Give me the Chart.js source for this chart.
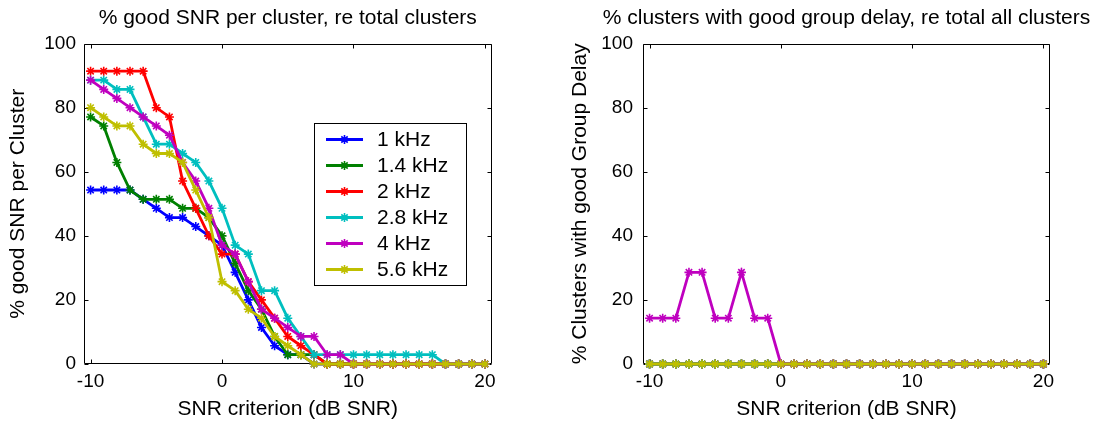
<!DOCTYPE html>
<html>
<head>
<meta charset="utf-8">
<script src="https://cdn.jsdelivr.net/npm/chart.js@4.4.1/dist/chart.umd.min.js"></script>
<style>
  html, body { margin: 0; padding: 0; background: #fff; }
  #wrap { position: relative; width: 1097px; height: 423px; overflow: hidden; }
  canvas { position: absolute; top: 0; }
  #snrChart { left: 0; }
  #gdChart { left: 548px; }
</style>
</head>
<body>
<div id="wrap">
  <canvas id="snrChart" width="548" height="423"></canvas>
  <!-- wider than the window so the (full width) title centres over the axes -->
  <canvas id="gdChart" width="597" height="423"></canvas>
</div>
<script>
// SNR criterion (dB SNR) for every point
const snrCriterion = [-10, -9, -8, -7, -6, -5, -4, -3, -2, -1, 0, 1, 2, 3, 4, 5, 6, 7, 8, 9, 10,
  11, 12, 13, 14, 15, 16, 17, 18, 19, 20];
const xTicks = [-10, 0, 10, 20];
const yTicks = [0, 20, 40, 60, 80, 100];

const bandLabels = ['1 kHz', '1.4 kHz', '2 kHz', '2.8 kHz', '4 kHz', '5.6 kHz'];
const bandColors = ['#0000ff', '#008000', '#ff0000', '#00bfbf', '#bf00bf', '#bfbf00'];

// % good SNR per cluster (left panel)
const snr1k  = [54.3, 54.3, 54.3, 54.3, 51.4, 48.6, 45.7, 45.7, 42.9, 40.0, 37.1, 28.6, 20.0, 11.4, 5.7, 2.9, 2.9,
  0, 0, 0, 0, 0, 0, 0, 0, 0, 0, 0, 0, 0, 0];
const snr14k = [77.1, 74.3, 62.9, 54.3, 51.4, 51.4, 51.4, 48.6, 48.6, 45.7, 40.0, 31.4, 22.9, 17.1, 8.6, 2.9, 2.9,
  2.9, 0, 0, 0, 0, 0, 0, 0, 0, 0, 0, 0, 0, 0];
const snr2k  = [91.4, 91.4, 91.4, 91.4, 91.4, 80.0, 77.1, 57.1, 48.6, 40.0, 34.3, 34.3, 25.7, 20.0, 14.3, 8.6, 5.7,
  2.9, 0, 0, 0, 0, 0, 0, 0, 0, 0, 0, 0, 0, 0];
const snr28k = [88.6, 88.6, 85.7, 85.7, 77.1, 68.6, 68.6, 65.7, 62.9, 57.1, 48.6, 37.1, 34.3, 22.9, 22.9, 14.3, 8.6,
  2.9, 2.9, 2.9, 2.9, 2.9, 2.9, 2.9, 2.9, 2.9, 2.9, 0, 0, 0, 0];
const snr4k  = [88.6, 85.7, 82.9, 80.0, 77.1, 74.3, 71.4, 62.9, 57.1, 48.6, 37.1, 34.3, 25.7, 17.1, 14.3, 11.4, 8.6,
  8.6, 2.9, 2.9, 0, 0, 0, 0, 0, 0, 0, 0, 0, 0, 0];
const snr56k = [80.0, 77.1, 74.3, 74.3, 68.6, 65.7, 65.7, 62.9, 54.3, 45.7, 25.7, 22.9, 17.1, 14.3, 8.6, 5.7, 2.9,
  0, 0, 0, 0, 0, 0, 0, 0, 0, 0, 0, 0, 0, 0];

// % clusters with good group delay (right panel)
const gd1k  = [0, 0, 0, 0, 0, 0, 0, 0, 0, 0, 0, 0, 0, 0, 0, 0, 0, 0, 0, 0, 0, 0, 0, 0, 0, 0, 0, 0, 0, 0, 0];
const gd14k = [0, 0, 0, 0, 0, 0, 0, 0, 0, 0, 0, 0, 0, 0, 0, 0, 0, 0, 0, 0, 0, 0, 0, 0, 0, 0, 0, 0, 0, 0, 0];
const gd2k  = [0, 0, 0, 0, 0, 0, 0, 0, 0, 0, 0, 0, 0, 0, 0, 0, 0, 0, 0, 0, 0, 0, 0, 0, 0, 0, 0, 0, 0, 0, 0];
const gd28k = [0, 0, 0, 0, 0, 0, 0, 0, 0, 0, 0, 0, 0, 0, 0, 0, 0, 0, 0, 0, 0, 0, 0, 0, 0, 0, 0, 0, 0, 0, 0];
const gd4k  = [14.3, 14.3, 14.3, 28.6, 28.6, 14.3, 14.3, 28.6, 14.3, 14.3, 0, 0, 0, 0, 0, 0, 0,
  0, 0, 0, 0, 0, 0, 0, 0, 0, 0, 0, 0, 0, 0];
const gd56k = [0, 0, 0, 0, 0, 0, 0, 0, 0, 0, 0, 0, 0, 0, 0, 0, 0, 0, 0, 0, 0, 0, 0, 0, 0, 0, 0, 0, 0, 0, 0];

const FONT = "'Liberation Sans', Arial, sans-serif";

// matlab style axes box with ticks pointing inwards
const matlabBox = {
  id: 'matlabBox',
  beforeDatasetsDraw(chart) {
    const { ctx, chartArea: a, scales: { x, y } } = chart;
    const L = Math.round(a.left) + 0.5, R = Math.round(a.right) - 0.5;
    const T = Math.round(a.top) + 0.5, B = Math.round(a.bottom) - 0.5;
    const len = 4;
    ctx.save();
    ctx.strokeStyle = '#000';
    ctx.lineWidth = 1;
    ctx.beginPath();
    ctx.rect(L, T, R - L, B - T);
    x.ticks.forEach(t => {
      const px = Math.round(x.getPixelForValue(t.value)) + 0.5;
      ctx.moveTo(px, B); ctx.lineTo(px, B - len);
      ctx.moveTo(px, T); ctx.lineTo(px, T + len);
    });
    y.ticks.forEach(t => {
      const py = Math.round(y.getPixelForValue(t.value)) + 0.5;
      ctx.moveTo(L, py); ctx.lineTo(L + len, py);
      ctx.moveTo(R, py); ctx.lineTo(R - len, py);
    });
    ctx.stroke();
    ctx.restore();
  }
};

// legend box drawn inside the left axes
const boxLegend = {
  id: 'boxLegend',
  afterDatasetsDraw(chart, args, opts) {
    if (!opts.show) return;
    const ctx = chart.ctx;
    const left = 314, top = 123, w = 152, h = 162;
    ctx.save();
    ctx.fillStyle = '#fff';
    ctx.fillRect(left, top, w, h);
    ctx.strokeStyle = '#000';
    ctx.lineWidth = 1;
    ctx.strokeRect(left + 0.5, top + 0.5, w, h);
    ctx.font = '21px ' + FONT;
    ctx.textBaseline = 'middle';
    ctx.textAlign = 'left';
    bandLabels.forEach((label, i) => {
      const yy = top + 16.5 + i * 26;
      ctx.strokeStyle = bandColors[i];
      ctx.lineWidth = 2.8;
      ctx.beginPath();
      ctx.moveTo(326, yy);
      ctx.lineTo(363, yy);
      ctx.stroke();
      ctx.lineWidth = 1.6;
      Chart.helpers.drawPoint(ctx, { pointStyle: 'star', radius: 4.5, borderWidth: 1.6 }, 344.5, yy);
      ctx.fillStyle = '#000';
      ctx.fillText(label, 377, yy + 1);
    });
    ctx.restore();
  }
};

function makeChart(id, series, cfg) {
  const ctx = document.getElementById(id).getContext('2d');
  const scales = {
    x: {
      type: 'linear',
      min: -10.5,
      max: 20.5,
      grid: { display: false, drawTicks: false },
      border: { display: false },
      afterBuildTicks: s => { s.ticks = xTicks.map(v => ({ value: v })); },
      afterFit: s => { s.height = 59; },
      ticks: {
        color: '#000',
        padding: 6,
        maxRotation: 0,
        font: { family: FONT, size: 19 },
        callback: v => String(v)
      },
      title: {
        display: true,
        text: 'SNR criterion (dB SNR)',
        color: '#000',
        font: { family: FONT, size: 21 },
        padding: { top: 0, bottom: 1 }
      }
    },
    y: {
      type: 'linear',
      min: 0,
      max: 100,
      grid: { display: false, drawTicks: false },
      border: { display: false },
      afterBuildTicks: s => { s.ticks = yTicks.map(v => ({ value: v })); },
      afterFit: s => { s.width = cfg.yWidth; },
      ticks: {
        color: '#000',
        padding: cfg.yTickPad,
        font: { family: FONT, size: 19 },
        callback: v => String(v)
      },
      title: {
        display: true,
        text: cfg.yTitle,
        color: '#000',
        font: { family: FONT, size: 21 },
        padding: { top: cfg.yTitlePad, bottom: 0 }
      }
    }
  };
  if (cfg.spacer) {
    // empty right hand axis, only reserves room so the axes sit centred under the title
    scales.spacer = {
      type: 'linear',
      position: 'right',
      min: 0,
      max: 100,
      grid: { display: false, drawTicks: false },
      border: { display: false },
      ticks: { display: false },
      afterFit: s => { s.width = cfg.spacer; }
    };
  }
  return new Chart(ctx, {
    type: 'line',
    data: {
      labels: snrCriterion,
      datasets: series.map((vals, i) => ({
        label: bandLabels[i],
        data: vals.map((v, k) => ({ x: snrCriterion[k], y: v })),
        borderColor: bandColors[i],
        backgroundColor: bandColors[i],
        borderWidth: 2.8,
        pointStyle: 'star',
        pointRadius: 4.5,
        pointBorderWidth: 1.6,
        pointBorderColor: bandColors[i],
        fill: false,
        tension: 0,
        clip: false,
        order: series.length - 1 - i
      }))
    },
    options: {
      responsive: false,
      animation: false,
      devicePixelRatio: 1,
      layout: { padding: { left: 0, right: cfg.rightPad, top: 0, bottom: 0 } },
      plugins: {
        legend: { display: false },
        tooltip: { enabled: false },
        title: {
          display: true,
          text: cfg.title,
          fullSize: cfg.fullTitle,
          color: '#000',
          font: { family: FONT, size: 21, weight: 'normal' },
          padding: { top: 6, bottom: 12.4 }
        },
        boxLegend: { show: cfg.legend }
      },
      scales
    },
    plugins: [matlabBox, boxLegend]
  });
}

makeChart('snrChart', [snr1k, snr14k, snr2k, snr28k, snr4k, snr56k], {
  title: '% good SNR per cluster, re total clusters',
  fullTitle: false,
  yTitle: '% good SNR per Cluster',
  yWidth: 84, yTitlePad: 5.4, yTickPad: 8, rightPad: 56.5,
  legend: true
});
makeChart('gdChart', [gd1k, gd14k, gd2k, gd28k, gd4k, gd56k], {
  title: '% clusters with good group delay, re total all clusters',
  fullTitle: true,
  yTitle: '% Clusters with good Group Delay',
  yWidth: 95, yTitlePad: 19.4, yTickPad: 10, rightPad: 0, spacer: 95,
  legend: false
});
</script>
</body>
</html>
